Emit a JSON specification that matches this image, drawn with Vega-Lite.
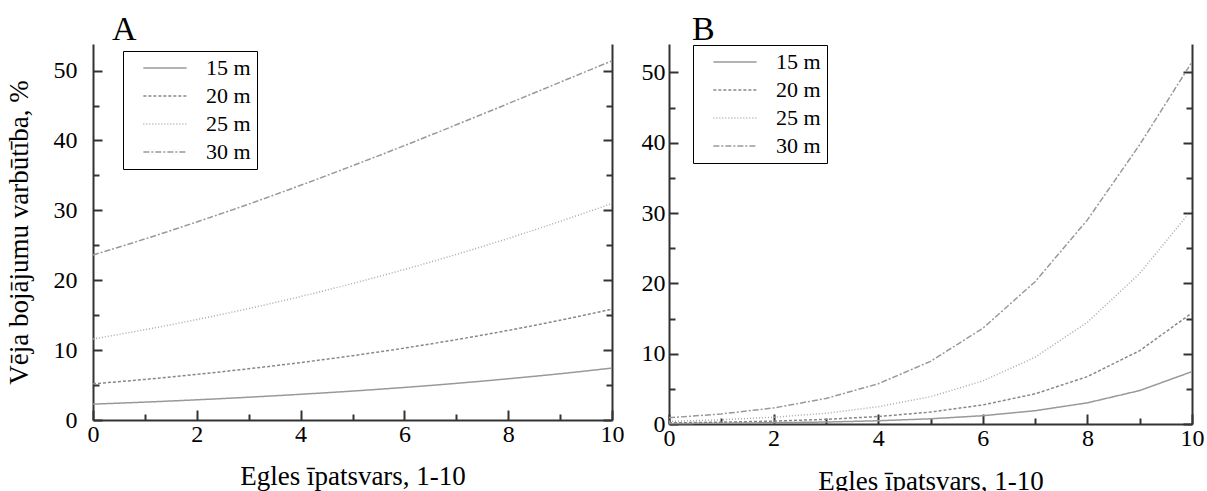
{
  "$schema": "https://vega.github.io/schema/vega-lite/v6.json",
  "background": "white",
  "padding": {"left": 5, "top": 13, "right": 5, "bottom": 5},
  "spacing": 17,
  "datasets": {
    "A": [
      {"x": 0, "h": "15 m", "p": 2.27}, {"x": 1, "h": "15 m", "p": 2.56}, {"x": 2, "h": "15 m", "p": 2.89}, {"x": 3, "h": "15 m", "p": 3.26}, {"x": 4, "h": "15 m", "p": 3.68}, {"x": 5, "h": "15 m", "p": 4.14}, {"x": 6, "h": "15 m", "p": 4.66}, {"x": 7, "h": "15 m", "p": 5.24}, {"x": 8, "h": "15 m", "p": 5.9}, {"x": 9, "h": "15 m", "p": 6.62}, {"x": 10, "h": "15 m", "p": 7.43},
      {"x": 0, "h": "20 m", "p": 5.17}, {"x": 1, "h": "20 m", "p": 5.81}, {"x": 2, "h": "20 m", "p": 6.53}, {"x": 3, "h": "20 m", "p": 7.33}, {"x": 4, "h": "20 m", "p": 8.22}, {"x": 5, "h": "20 m", "p": 9.2}, {"x": 6, "h": "20 m", "p": 10.29}, {"x": 7, "h": "20 m", "p": 11.5}, {"x": 8, "h": "20 m", "p": 12.82}, {"x": 9, "h": "20 m", "p": 14.27}, {"x": 10, "h": "20 m", "p": 15.86},
      {"x": 0, "h": "25 m", "p": 11.6}, {"x": 1, "h": "25 m", "p": 12.92}, {"x": 2, "h": "25 m", "p": 14.37}, {"x": 3, "h": "25 m", "p": 15.95}, {"x": 4, "h": "25 m", "p": 17.67}, {"x": 5, "h": "25 m", "p": 19.53}, {"x": 6, "h": "25 m", "p": 21.54}, {"x": 7, "h": "25 m", "p": 23.69}, {"x": 8, "h": "25 m", "p": 25.98}, {"x": 9, "h": "25 m", "p": 28.42}, {"x": 10, "h": "25 m", "p": 30.98},
      {"x": 0, "h": "30 m", "p": 23.61}, {"x": 1, "h": "30 m", "p": 25.9}, {"x": 2, "h": "30 m", "p": 28.34}, {"x": 3, "h": "30 m", "p": 30.89}, {"x": 4, "h": "30 m", "p": 33.58}, {"x": 5, "h": "30 m", "p": 36.38}, {"x": 6, "h": "30 m", "p": 39.26}, {"x": 7, "h": "30 m", "p": 42.24}, {"x": 8, "h": "30 m", "p": 45.27}, {"x": 9, "h": "30 m", "p": 48.33}, {"x": 10, "h": "30 m", "p": 51.4}
    ],
    "B": [
      {"x": 0, "h": "15 m", "p": 0.07}, {"x": 1, "h": "15 m", "p": 0.11}, {"x": 2, "h": "15 m", "p": 0.18}, {"x": 3, "h": "15 m", "p": 0.28}, {"x": 4, "h": "15 m", "p": 0.46}, {"x": 5, "h": "15 m", "p": 0.74}, {"x": 6, "h": "15 m", "p": 1.18}, {"x": 7, "h": "15 m", "p": 1.89}, {"x": 8, "h": "15 m", "p": 3.01}, {"x": 9, "h": "15 m", "p": 4.76}, {"x": 10, "h": "15 m", "p": 7.45},
      {"x": 0, "h": "20 m", "p": 0.16}, {"x": 1, "h": "20 m", "p": 0.26}, {"x": 2, "h": "20 m", "p": 0.41}, {"x": 3, "h": "20 m", "p": 0.66}, {"x": 4, "h": "20 m", "p": 1.06}, {"x": 5, "h": "20 m", "p": 1.7}, {"x": 6, "h": "20 m", "p": 2.71}, {"x": 7, "h": "20 m", "p": 4.29}, {"x": 8, "h": "20 m", "p": 6.74}, {"x": 9, "h": "20 m", "p": 10.43}, {"x": 10, "h": "20 m", "p": 15.8},
      {"x": 0, "h": "25 m", "p": 0.37}, {"x": 1, "h": "25 m", "p": 0.6}, {"x": 2, "h": "25 m", "p": 0.96}, {"x": 3, "h": "25 m", "p": 1.53}, {"x": 4, "h": "25 m", "p": 2.45}, {"x": 5, "h": "25 m", "p": 3.89}, {"x": 6, "h": "25 m", "p": 6.12}, {"x": 7, "h": "25 m", "p": 9.5}, {"x": 8, "h": "25 m", "p": 14.47}, {"x": 9, "h": "25 m", "p": 21.42}, {"x": 10, "h": "25 m", "p": 30.51},
      {"x": 0, "h": "30 m", "p": 0.89}, {"x": 1, "h": "30 m", "p": 1.43}, {"x": 2, "h": "30 m", "p": 2.28}, {"x": 3, "h": "30 m", "p": 3.63}, {"x": 4, "h": "30 m", "p": 5.72}, {"x": 5, "h": "30 m", "p": 8.91}, {"x": 6, "h": "30 m", "p": 13.61}, {"x": 7, "h": "30 m", "p": 20.24}, {"x": 8, "h": "30 m", "p": 29.03}, {"x": 9, "h": "30 m", "p": 39.73}, {"x": 10, "h": "30 m", "p": 51.5}
    ]
  },
  "config": {
    "view": {"stroke": null},
    "font": "Liberation Serif",
    "style": {
      "guide-label": {"font": "Liberation Serif", "fill": "black"},
      "guide-title": {"font": "Liberation Serif", "fill": "black"},
      "group-title": {"font": "Liberation Serif"}
    },
    "axis": {
      "grid": false,
      "domainColor": "#333333",
      "domainWidth": 2,
      "tickColor": "#333333",
      "tickWidth": 2,
      "labelFont": "Liberation Serif",
      "labelFontSize": 24,
      "labelColor": "black",
      "labelOverlap": false,
      "labelFlush": false,
      "labelBound": false,
      "titleFont": "Liberation Serif",
      "titleFontSize": 27,
      "titleFontWeight": "normal",
      "titleColor": "black"
    },
    "legend": {
      "strokeColor": "black",
      "padding": 6,
      "labelFont": "Liberation Serif",
      "labelFontSize": 22,
      "labelColor": "black",
      "symbolStrokeWidth": 1.5,
      "fillColor": "white"
    },
    "title": {"font": "Liberation Serif", "fontSize": 34, "fontWeight": "normal", "color": "black", "anchor": "start", "frame": "group"}
  },
  "resolve": {"scale": {"color": "independent", "strokeDash": "independent"}},
  "hconcat": [
    {
      "width": 519,
      "height": 376,
      "title": {"text": "A", "dx": 19, "offset": -3, "frame": "group"},
      "data": {"name": "A"},
      "encoding": {
        "x": {
          "field": "x", "type": "quantitative",
          "scale": {"domain": [0, 10], "nice": false, "zero": false},
          "axis": {
            "values": [0, 1, 2, 3, 4, 5, 6, 7, 8, 9, 10],
            "labelExpr": "datum.value % 2 === 0 ? datum.label : ''",
            "tickSize": {"condition": {"test": "datum.value % 2 === 0", "value": -10}, "value": -6},
            "labelPadding": 12,
            "labelFont": "Liberation Serif",
            "labelFontSize": 24,
            "titleFont": "Liberation Serif",
            "titleFontSize": 27,
            "titleFontWeight": "normal",
            "title": "Egles īpatsvars, 1-10",
            "titlePadding": 13
          }
        }
      },
      "layer": [
        {
          "mark": {"type": "line", "interpolate": "monotone", "strokeWidth": 1.5},
          "encoding": {
            "y": {
              "field": "p", "type": "quantitative",
              "scale": {"domain": [0, 53.8], "nice": false, "zero": false},
              "axis": {
                "orient": "left",
                "values": [0, 5, 10, 15, 20, 25, 30, 35, 40, 45, 50],
                "labelExpr": "datum.value % 10 === 0 ? datum.label : ''",
                "tickSize": {"condition": {"test": "datum.value % 10 === 0", "value": -9}, "value": -6},
                "labelPadding": 25,
                "labelFont": "Liberation Serif",
                "labelFontSize": 24,
                "titleFont": "Liberation Serif",
                "titleFontSize": 27,
                "titleFontWeight": "normal",
                "title": "Vēja bojājumu varbūtība, %",
                "titlePadding": 20
              }
            },
            "color": {
              "field": "h", "type": "nominal",
              "scale": {"domain": ["15 m", "20 m", "25 m", "30 m"], "range": ["#999999", "#888888", "#aaaaaa", "#999999"]},
              "legend": {"title": null, "orient": "none", "legendX": 30, "legendY": 7, "symbolType": "M-2.5,0H2.5", "symbolSize": 300, "symbolOffset": 25, "labelOffset": 30, "rowPadding": 6}
            },
            "strokeDash": {
              "field": "h", "type": "nominal",
              "scale": {"domain": ["15 m", "20 m", "25 m", "30 m"], "range": [[1, 0], [3, 2], [1, 2], [6, 2, 2, 2]]},
              "legend": {"title": null, "orient": "none", "legendX": 30, "legendY": 7, "symbolType": "M-2.5,0H2.5", "symbolSize": 300, "symbolOffset": 25, "labelOffset": 30, "rowPadding": 6}
            }
          }
        },
        {
          "mark": {"type": "point", "opacity": 0},
          "encoding": {
            "y": {
              "field": "p", "type": "quantitative",
              "scale": {"domain": [0, 53.8], "nice": false, "zero": false},
              "axis": {
                "orient": "right",
                "values": [0, 5, 10, 15, 20, 25, 30, 35, 40, 45, 50],
                "labels": false,
                "tickSize": {"condition": {"test": "datum.value % 10 === 0", "value": -9}, "value": -6},
                "title": null
              }
            }
          }
        }
      ],
      "resolve": {"axis": {"y": "independent"}}
    },
    {
      "width": 523,
      "height": 380,
      "title": {"text": "B", "dx": 23, "offset": -3, "frame": "group"},
      "data": {"name": "B"},
      "encoding": {
        "x": {
          "field": "x", "type": "quantitative",
          "scale": {"domain": [0, 10], "nice": false, "zero": false},
          "axis": {
            "values": [0, 1, 2, 3, 4, 5, 6, 7, 8, 9, 10],
            "labelExpr": "datum.value % 2 === 0 ? datum.label : ''",
            "tickSize": {"condition": {"test": "datum.value % 2 === 0", "value": -10}, "value": -6},
            "labelPadding": 12,
            "labelFont": "Liberation Serif",
            "labelFontSize": 24,
            "titleFont": "Liberation Serif",
            "titleFontSize": 27,
            "titleFontWeight": "normal",
            "title": "Egles īpatsvars, 1-10",
            "titlePadding": 14
          }
        }
      },
      "layer": [
        {
          "mark": {"type": "line", "strokeWidth": 1.5},
          "encoding": {
            "y": {
              "field": "p", "type": "quantitative",
              "scale": {"domain": [0, 54.05], "nice": false, "zero": false},
              "axis": {
                "orient": "left",
                "values": [0, 5, 10, 15, 20, 25, 30, 35, 40, 45, 50],
                "labelExpr": "datum.value % 10 === 0 ? datum.label : ''",
                "tickSize": {"condition": {"test": "datum.value % 10 === 0", "value": -9}, "value": -6},
                "labelPadding": 13,
                "labelFont": "Liberation Serif",
                "labelFontSize": 24,
                "title": null
              }
            },
            "color": {
              "field": "h", "type": "nominal",
              "scale": {"domain": ["15 m", "20 m", "25 m", "30 m"], "range": ["#999999", "#888888", "#aaaaaa", "#999999"]},
              "legend": {"title": null, "orient": "none", "legendX": 24, "legendY": 1, "symbolType": "M-2.5,0H2.5", "symbolSize": 300, "symbolOffset": 25, "labelOffset": 30, "rowPadding": 6}
            },
            "strokeDash": {
              "field": "h", "type": "nominal",
              "scale": {"domain": ["15 m", "20 m", "25 m", "30 m"], "range": [[1, 0], [3, 2], [1, 2], [6, 2, 2, 2]]},
              "legend": {"title": null, "orient": "none", "legendX": 24, "legendY": 1, "symbolType": "M-2.5,0H2.5", "symbolSize": 300, "symbolOffset": 25, "labelOffset": 30, "rowPadding": 6}
            }
          }
        },
        {
          "mark": {"type": "point", "opacity": 0},
          "encoding": {
            "y": {
              "field": "p", "type": "quantitative",
              "scale": {"domain": [0, 54.05], "nice": false, "zero": false},
              "axis": {
                "orient": "right",
                "values": [0, 5, 10, 15, 20, 25, 30, 35, 40, 45, 50],
                "labels": false,
                "tickSize": {"condition": {"test": "datum.value % 10 === 0", "value": -9}, "value": -6},
                "title": null
              }
            }
          }
        }
      ],
      "resolve": {"axis": {"y": "independent"}}
    }
  ]
}
